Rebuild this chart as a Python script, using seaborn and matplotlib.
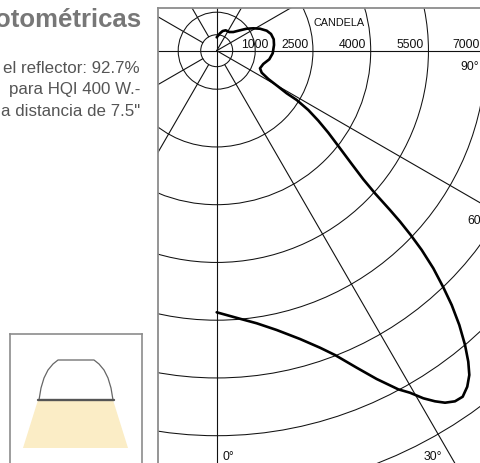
import matplotlib
matplotlib.use("Agg")
import matplotlib.pyplot as plt
from matplotlib.patches import Circle
import numpy as np
import pandas as pd
import seaborn as sns

# photometric curve, angle from straight down (deg) and intensity (cd)
curve_angle = [0, 4.61, 8.35, 12.12, 16.12, 19.18, 21.24, 23.83, 25.98, 28.2, 29.47, 30.73, 31.91, 32.97,
               34.2, 35.41, 36.71, 37.92, 38.97, 40.16, 41.49, 42.74, 43.76, 44.87, 45.81, 46.47, 47.01,
               47.41, 47.98, 48.74, 50.0, 51.91, 53.69, 55.44, 57.08, 58.36, 58.67, 59.7, 61.26, 63.95,
               67.88, 74.07, 80.71, 87.34, 95.68, 101.31, 107.1, 111.8, 116.93, 121.47, 126.25, 131.2,
               138.4, 146, 156.2, 163, 169.3, 180]
curve_cd = [6795, 6973, 7156, 7420, 7795, 8168, 8480, 9001, 9486, 9980, 10204, 10503, 10728, 10898,
            11011, 11027, 10887, 10677, 10390, 10001, 9512, 8994, 8510, 7975, 7426, 6950, 6511,
            6114, 5534, 5065, 4578, 4013, 3597, 3205, 2834, 2441, 2128, 1853, 1529, 1301,
            1214, 1258, 1384, 1456, 1496, 1510, 1476, 1399, 1261, 1114, 966, 804,
            649, 585, 579, 535, 460, 348]

circle_cd = [415, 1000, 2500, 4000, 5500, 7000, 8500, 10000, 11500]
ray_from_center = [0, 60, 90, 120, 150, 180, -90]
ray_from_inner = [30, -30, -60, -120, -150]

scale_labels = ["1000", "2500", "4000", "5500", "7000"]
scale_label_x = [1340, 2397, 3870, 5385, 6821]
angle_labels = ["90°", "60°", "30°", "0°"]
angle_label_x = [6340, 6500, 5366, 138]
angle_label_y = [-501, -4501, -10620, -10620]

W, H = 480, 463
PX = 0.0385  # pixels per candela
CX, CY = 216.7, 50.7
LEFT, TOP = 158, 8

sns.set_style("white")
plt.rcParams["font.family"] = ["Liberation Sans", "DejaVu Sans"]

fig = plt.figure(figsize=(W / 100, H / 100), dpi=100)
ax = fig.add_axes([LEFT / W, 0, (W - LEFT) / W, (H - TOP) / H])
ax.set_xlim((LEFT - CX) / PX, (W - CX) / PX)
ax.set_ylim(-(H - CY) / PX, (CY - TOP) / PX)

for r in circle_cd:
    ax.add_patch(Circle((0, 0), r, fill=False, ec="#111111", lw=0.75))

far = 20000
for a in ray_from_center + ray_from_inner:
    t = np.radians(a)
    r0 = 0 if a in ray_from_center else circle_cd[0]
    ax.plot([r0 * np.sin(t), far * np.sin(t)], [-r0 * np.cos(t), -far * np.cos(t)],
            color="#111111", lw=0.8)

theta = np.radians(curve_angle)
df = pd.DataFrame({"x": np.array(curve_cd) * np.sin(theta), "y": -np.array(curve_cd) * np.cos(theta)})
sns.lineplot(data=df, x="x", y="y", sort=False, estimator=None, color="black", lw=1.9, ax=ax,
             solid_joinstyle="round", solid_capstyle="round")

for s, x in zip(scale_labels, scale_label_x):
    ax.text(x, 70, s, ha="right", va="baseline", fontsize=8.8, color="#111111")
for s, x, y in zip(angle_labels, angle_label_x, angle_label_y):
    ax.text(x, y, s, ha="left", va="baseline", fontsize=8.8, color="#111111")
ax.text(2512, 641, "CANDELA", ha="left", va="baseline", fontsize=7.8, color="#111111")

ax.set_xticks([])
ax.set_yticks([])
ax.set_xlabel("")
ax.set_ylabel("")
sns.despine(ax=ax, right=True, bottom=True, top=False, left=False)
for side in ["left", "top"]:
    ax.spines[side].set_color("#8c8c8c")
    ax.spines[side].set_linewidth(1.3)

# heading and notes, cut by the left edge as in the original
fig.text(141 / W, 1 - 27 / H, "otométricas", ha="right", va="baseline", fontsize=18.5,
         fontweight="bold", color="#777777")
notes = ["el reflector: 92.7%", "para HQI 400 W.-", "a distancia de 7.5\""]
note_y = [73, 94, 116]
for s, y in zip(notes, note_y):
    fig.text(140 / W, 1 - y / H, s, ha="right", va="baseline", fontsize=12.2, color="#555555")

# lamp sketch, axes in image pixels
lamp = fig.add_axes([10 / W, 0, 132 / W, (H - 334) / H])
lamp.set_xlim(10, 142)
lamp.set_ylim(463, 334)
lamp.fill([38, 113, 128, 23], [400, 400, 448, 448], color="#fbedc6", lw=0)
dome_x = [39, 41, 44, 48, 53, 58, 94, 99, 104, 108, 111, 113]
dome_y = [400, 388, 378, 370, 364, 360, 360, 364, 370, 378, 388, 400]
lamp.plot(dome_x, dome_y, color="#666666", lw=0.9)
lamp.plot([38, 114], [400, 400], color="#555555", lw=1.7)
lamp.set_xticks([])
lamp.set_yticks([])
sns.despine(ax=lamp, right=False, bottom=True, top=False, left=False)
for side in ["left", "top", "right"]:
    lamp.spines[side].set_color("#8c8c8c")
    lamp.spines[side].set_linewidth(1.2)

fig.savefig("out.png", dpi=100)
